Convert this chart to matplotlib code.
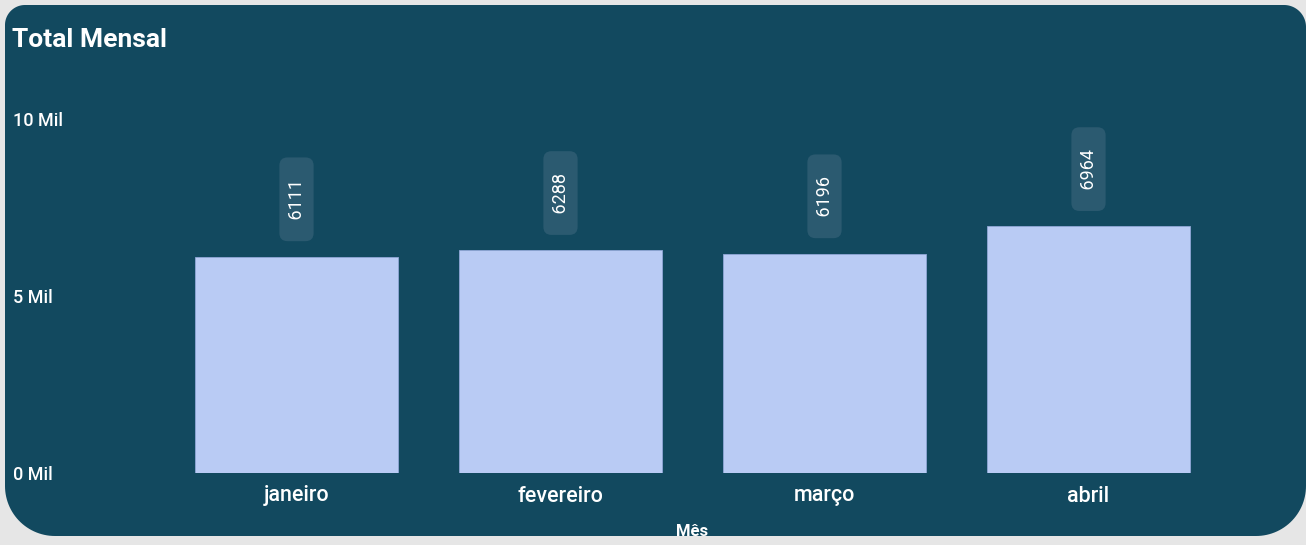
import matplotlib
matplotlib.use("Agg")
import matplotlib.pyplot as plt
import numpy as np
from matplotlib.path import Path
from matplotlib.patches import PathPatch

meses = ["janeiro", "fevereiro", "março", "abril"]
totais = [6111, 6288, 6196, 6964]
yticks = [0, 5000, 10000]
ylabels = ["0 Mil", "5 Mil", "10 Mil"]

W, H = 1306, 545
fundo = "#e6e6e6"
painel = "#12495f"
barra = "#b9cbf4"
caixa = "#2b5a70"

plt.rcParams['font.family'] = ['Roboto', 'DejaVu Sans']

fig = plt.figure(figsize=(W / 100, H / 100), dpi=100, facecolor=fundo)


def rounded_panel(x0, y0, x1, y1, r_tl, r_tr, r_br, r_bl):
    # pixel coords measured from top-left, converted to figure fraction
    pts = []
    def arc(cx, cy, r, a0, a1):
        for a in np.linspace(a0, a1, 30):
            pts.append((cx + r * np.cos(a), cy + r * np.sin(a)))
    arc(x0 + r_tl, y0 + r_tl, r_tl, np.pi, 1.5 * np.pi)
    arc(x1 - r_tr, y0 + r_tr, r_tr, 1.5 * np.pi, 2 * np.pi)
    arc(x1 - r_br, y1 - r_br, r_br, 0, 0.5 * np.pi)
    arc(x0 + r_bl, y1 - r_bl, r_bl, 0.5 * np.pi, np.pi)
    pts = [(x / W, 1 - y / H) for x, y in pts]
    pts.append(pts[0])
    return Path(pts, closed=True)


p = PathPatch(rounded_panel(5, 5, 1306, 536, 20, 22, 50, 50), facecolor=painel,
              edgecolor="none", transform=fig.transFigure, zorder=-5)
fig.patches.append(p)

# axes: x from 164.5 to 1220.5 px, y from 473 (0) to 119 (10000)
ax = fig.add_axes([164.5 / W, (H - 473) / H, 1056 / W, 354 / H])
ax.set_zorder(2)
ax.set_facecolor("none")
for s in ax.spines.values():
    s.set_visible(False)

x = np.arange(len(meses))
ax.bar(x, totais, width=0.77, color=barra, edgecolor="#8fa6d6", linewidth=0.6)
ax.set_xlim(-0.5, len(meses) - 0.5)
ax.set_ylim(0, 10000)

ax.set_xticks(x)
ax.set_xticklabels(meses, fontsize=15.5, color="white", fontweight="medium")
ax.set_yticks(yticks)
ax.set_yticklabels(ylabels, fontsize=13, color="white", ha="left",
                   fontweight="medium")
ax.tick_params(axis="x", length=0, pad=9)
ax.tick_params(axis="y", length=0, pad=(164.5 - 13) * 0.72)

for xi, v in zip(x, totais):
    ax.annotate("   " + str(v) + "   ", (xi, v), xytext=(0, 17),
                textcoords="offset points",
                rotation=90, ha="center", va="bottom", fontsize=13,
                color="white", clip_on=False,
                bbox=dict(boxstyle="round,pad=0.45,rounding_size=0.45",
                          facecolor=caixa, edgecolor="none"))

fig.text(12 / W, 1 - 40 / H, "Total Mensal", fontsize=19, fontweight="bold",
         color="white", ha="left", va="center", zorder=3)
t = fig.text(692 / W, 1 - 532 / H, "Mês", fontsize=12, fontweight="bold",
             color="white", ha="center", va="center", zorder=3)
t.set_clip_path(p)

fig.savefig("out.png", dpi=100, facecolor=fundo)
